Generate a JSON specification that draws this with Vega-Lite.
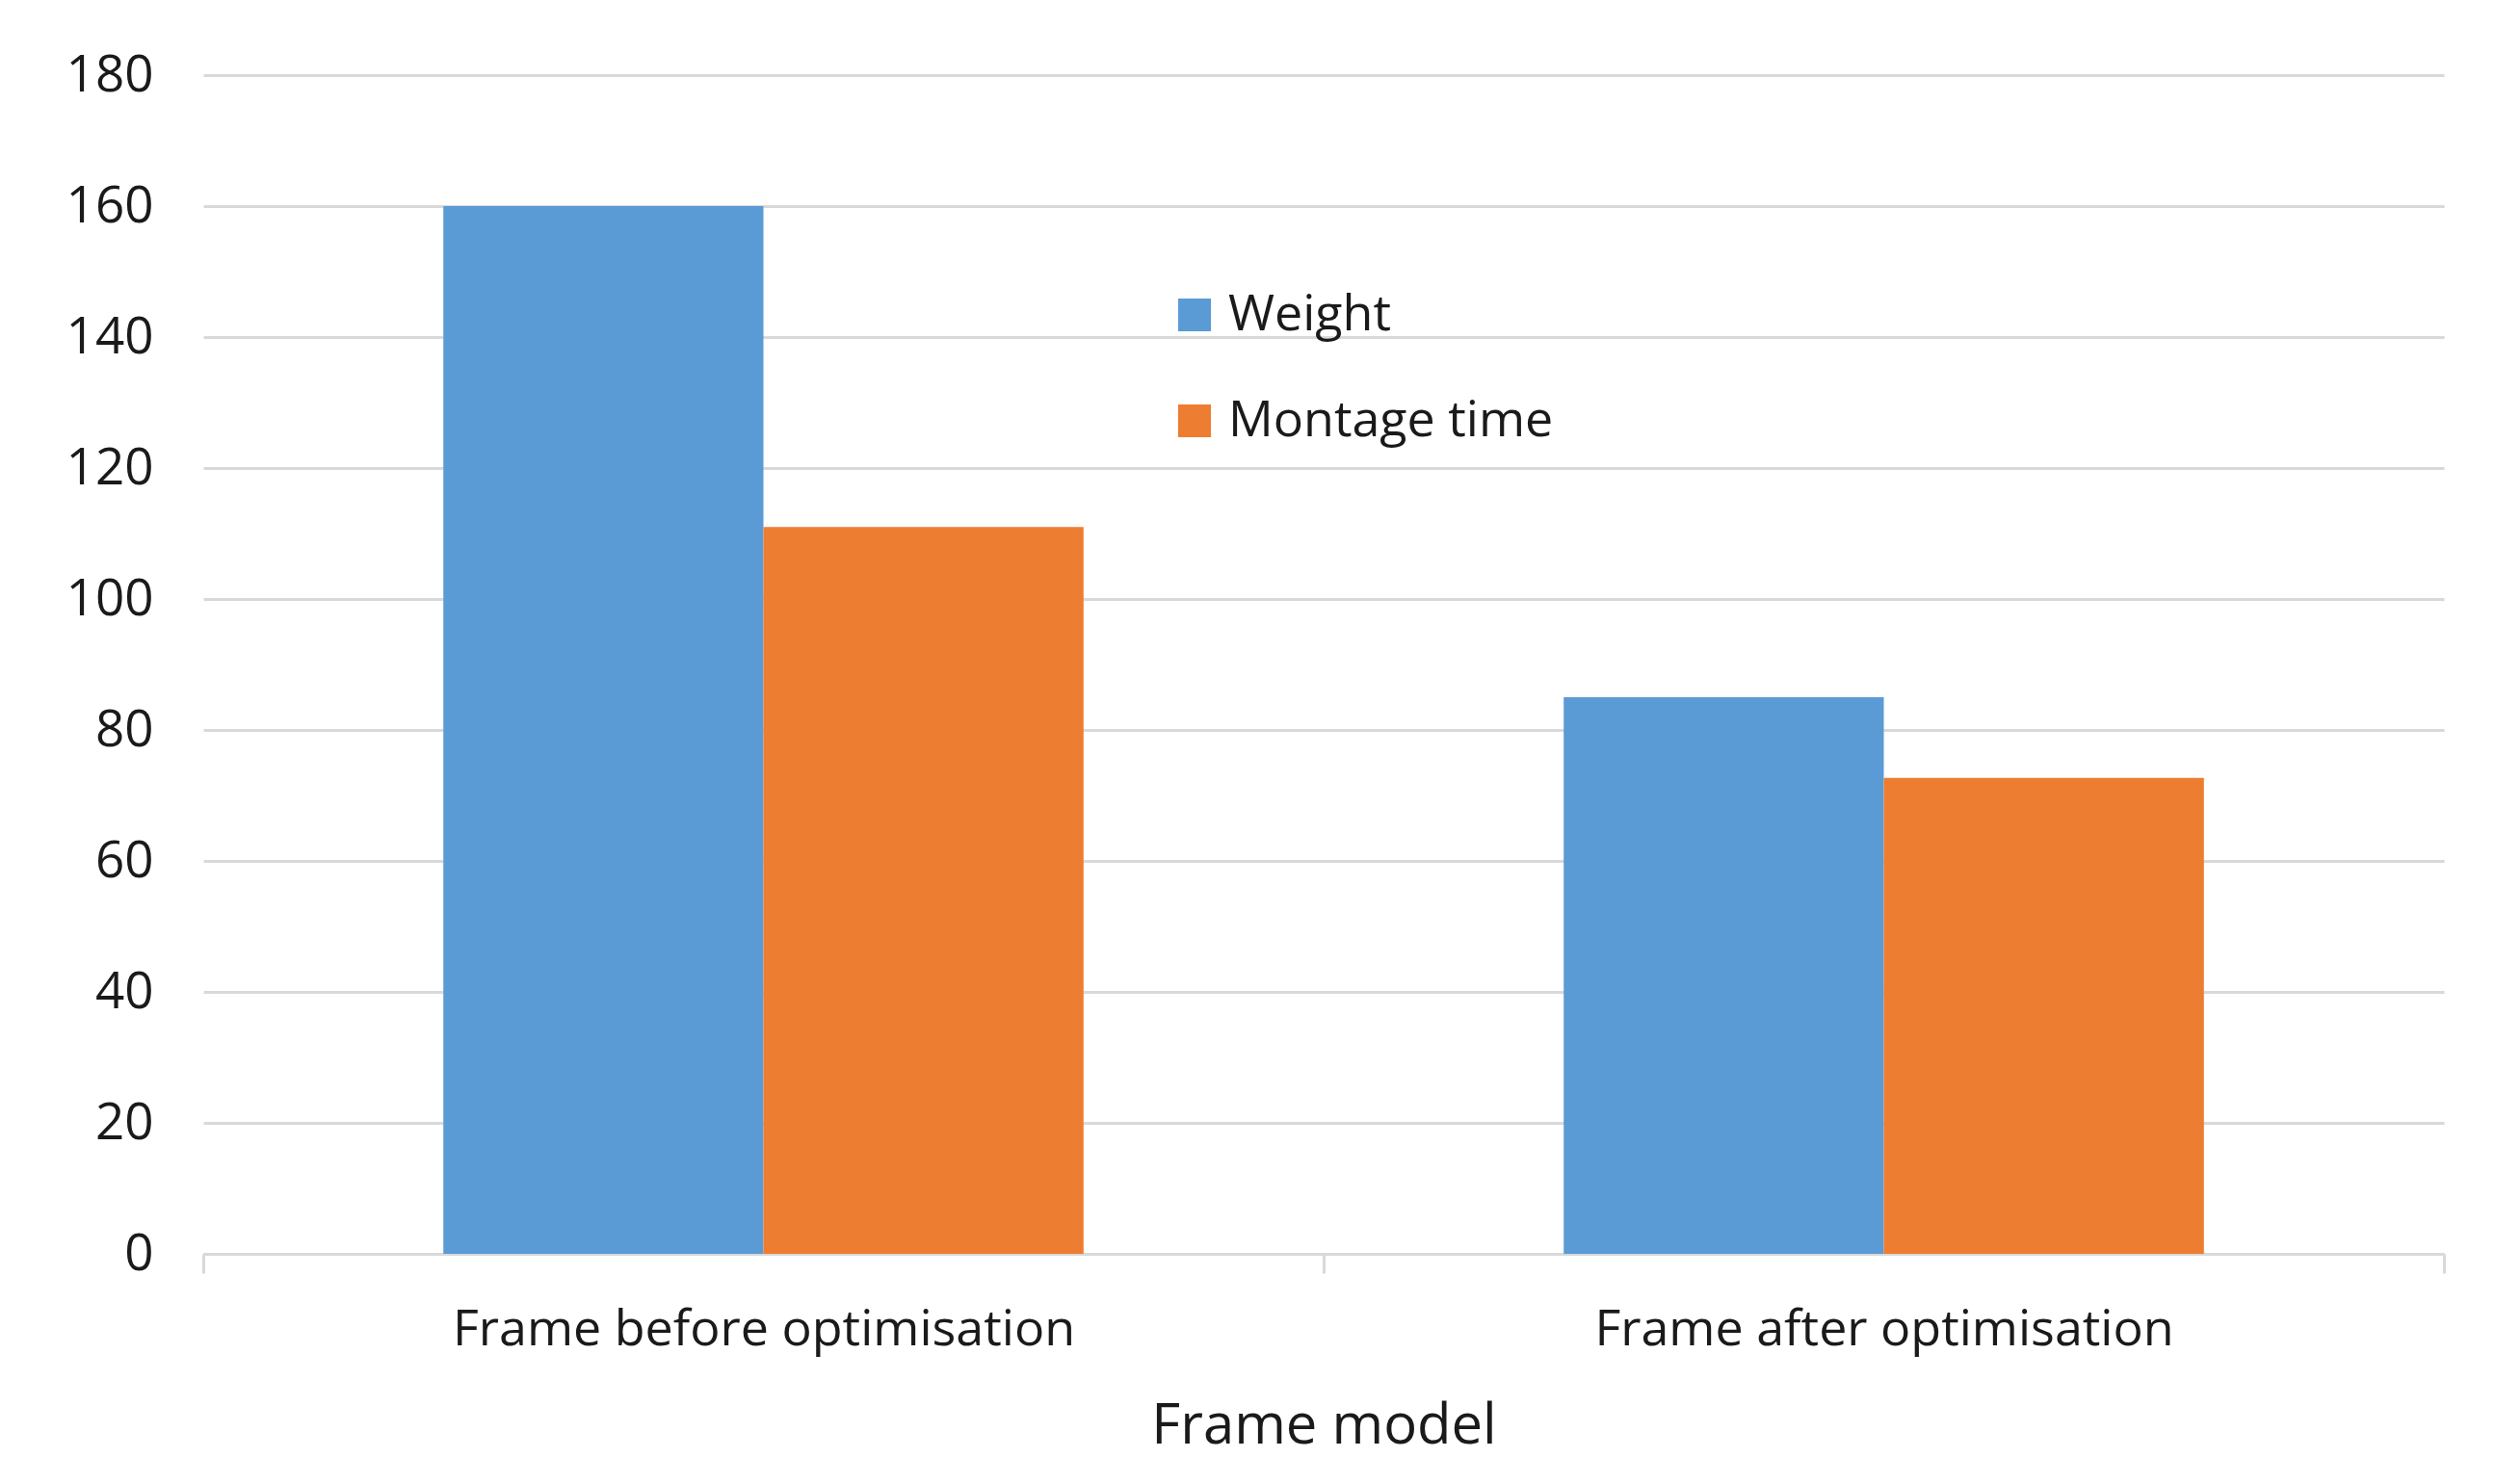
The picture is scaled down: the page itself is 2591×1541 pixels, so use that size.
{
  "$schema": "https://vega.github.io/schema/vega-lite/v6.json",
  "autosize": "none",
  "width": 2326,
  "height": 1224,
  "padding": {"left": 211, "top": 78, "right": 54, "bottom": 239},
  "background": "white",
  "config": {
    "view": {"stroke": null},
    "font": "Open Sans",
    "axis": {"labelFont": "Open Sans", "titleFont": "Open Sans", "labelColor": "#1a1a1a", "titleColor": "#1a1a1a", "titleFontWeight": "normal", "labelLimit": 0}
  },
  "data": {
    "values": [
      {"model": "Frame before optimisation", "series": "Weight", "value": 160},
      {"model": "Frame before optimisation", "series": "Montage time", "value": 111},
      {"model": "Frame after optimisation", "series": "Weight", "value": 85},
      {"model": "Frame after optimisation", "series": "Montage time", "value": 72.7}
    ]
  },
  "mark": {"type": "bar"},
  "encoding": {
    "x": {
      "field": "model",
      "type": "nominal",
      "sort": ["Frame before optimisation", "Frame after optimisation"],
      "scale": {"paddingInner": 0, "paddingOuter": 0},
      "axis": {
        "title": "Frame model",
        "titleFontSize": 58,
        "labelFontSize": 52,
        "labelAngle": 0,
        "labelPadding": 33,
        "titlePadding": 46,
        "domainColor": "#d9d9d9",
        "domainWidth": 3,
        "tickColor": "#d9d9d9",
        "tickWidth": 3,
        "tickSize": 20,
        "tickBand": "extent",
        "grid": false
      }
    },
    "xOffset": {
      "field": "series",
      "type": "nominal",
      "sort": ["Weight", "Montage time"],
      "scale": {"paddingInner": 0, "paddingOuter": 0.75}
    },
    "y": {
      "field": "value",
      "type": "quantitative",
      "scale": {"domain": [0, 180], "nice": false},
      "axis": {
        "title": null,
        "values": [0, 20, 40, 60, 80, 100, 120, 140, 160, 180],
        "labelFontSize": 53,
        "labelPadding": 52,
        "ticks": false,
        "domain": false,
        "grid": true,
        "gridColor": "#d9d9d9",
        "gridWidth": 3
      }
    },
    "color": {
      "field": "series",
      "type": "nominal",
      "sort": ["Weight", "Montage time"],
      "scale": {"domain": ["Weight", "Montage time"], "range": ["#5B9BD5", "#ED7D31"]},
      "legend": {
        "title": null,
        "orient": "none",
        "legendX": 1003,
        "legendY": 223,
        "symbolType": "square",
        "symbolSize": 1156,
        "symbolStrokeWidth": 0,
        "labelFontSize": 52,
        "labelFont": "Open Sans",
        "labelColor": "#1a1a1a",
        "labelOffset": 9,
        "labelLimit": 0,
        "rowPadding": 58
      }
    }
  }
}
